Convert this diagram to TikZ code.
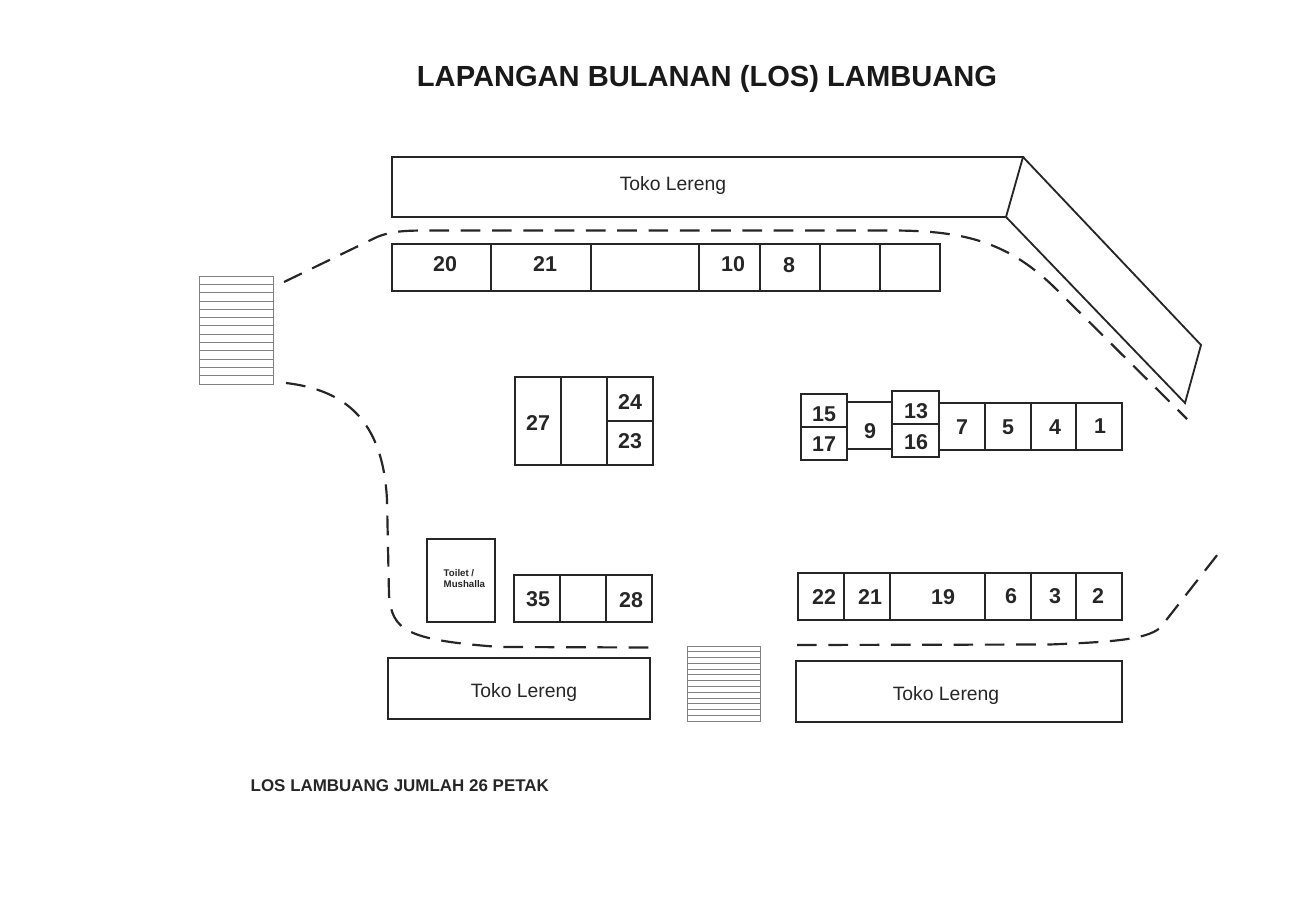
\documentclass[tikz,border=0pt]{standalone}
\usepackage{fontspec}
\setmainfont{Liberation Sans}

\begin{document}
\begin{tikzpicture}[x=0.01cm,y=-0.01cm,
    bangunan/.style={draw=black!85,line width=0.52pt,line join=miter},
    petak/.style={draw=black!85,line width=0.47pt},
    jalan/.style={draw=black!85,line width=0.62pt,dash pattern=on 5.6pt off 3.3pt},
    tangga/.style={draw=black!50,line width=0.22pt},
    nomor/.style={font=\fontsize{6.1}{7}\selectfont\bfseries,text=black!85,inner sep=0pt},
    toko/.style={font=\fontsize{5.5}{7}\selectfont,text=black!85,inner sep=0pt}]
    \useasboundingbox (0,0) rectangle (1300,919);

    \node[inner sep=0pt,text=black!90,font=\fontsize{8.28}{10}\selectfont\bfseries] (judul) at (707,79) {LAPANGAN BULANAN (LOS) LAMBUANG};

    % toko
    \draw[bangunan] (392,157) -- (1023,157) -- (1006,217) -- (392,217) -- cycle;
    \draw[bangunan] (1023,157) -- (1201,345) -- (1185,403) -- (1006,217);
    \draw[bangunan] (388,658) rectangle (650,719);
    \draw[bangunan] (796,661) rectangle (1122,722);
    \node[toko] (toko1) at (673,186) {Toko Lereng};
    \node[toko] (toko2) at (524,693) {Toko Lereng};
    \node[toko] (toko3) at (946,695) {Toko Lereng};

    % baris atas
    \draw[petak] (392,244) rectangle (491,291);
    \draw[petak] (491,244) rectangle (591,291);
    \draw[petak,line width=0.7pt] (591,244) rectangle (699,291);
    \draw[petak] (699,244) rectangle (760,291);
    \draw[petak] (760,244) rectangle (820,291);
    \draw[petak] (820,244) rectangle (880,291);
    \draw[petak] (880,244) rectangle (940,291);
    \node[nomor] (n20) at (445,264) {20};
    \node[nomor] (n21a) at (545,264) {21};
    \node[nomor] (n10) at (733,264) {10};
    \node[nomor] (n8) at (789,265) {8};

    % tengah kiri
    \draw[petak] (515,377) rectangle (561,465);
    \draw[petak] (561,377) rectangle (607,465);
    \draw[petak] (607,377) rectangle (653,421);
    \draw[petak] (607,421) rectangle (653,465);
    \node[nomor] (n27) at (538,423) {27};
    \node[nomor] (n24) at (630,402) {24};
    \node[nomor] (n23) at (630,441) {23};

    % tengah kanan
    \draw[petak] (847,402) rectangle (892,449);
    \draw[petak] (939,403) rectangle (985,450);
    \draw[petak] (985,403) rectangle (1031,450);
    \draw[petak] (1031,403) rectangle (1076,450);
    \draw[petak] (1076,403) rectangle (1122,450);
    \draw[petak] (801,394) rectangle (847,427);
    \draw[petak] (801,427) rectangle (847,460);
    \draw[petak] (892,391) rectangle (939,424);
    \draw[petak] (892,424) rectangle (939,457);
    \node[nomor] (n15) at (824,414) {15};
    \node[nomor] (n17) at (824,444) {17};
    \node[nomor] (n9) at (870,431) {9};
    \node[nomor] (n13) at (916,411) {13};
    \node[nomor] (n16) at (916,442) {16};
    \node[nomor] (n7) at (962,427) {7};
    \node[nomor] (n5) at (1008,427) {5};
    \node[nomor] (n4) at (1055,427) {4};
    \node[nomor] (n1) at (1100,426) {1};

    % bawah kiri
    \draw[petak] (427,539) rectangle (495,622);
    \node[inner sep=0pt,anchor=north west,align=left,text=black!85,font=\fontsize{2.75}{3.1}\selectfont\bfseries] (toilet) at (443,569) {Toilet /\\Mushalla};
    \draw[petak] (514,575) rectangle (560,622);
    \draw[petak] (560,575) rectangle (606,622);
    \draw[petak] (606,575) rectangle (652,622);
    \node[nomor] (n35) at (538,599) {35};
    \node[nomor] (n28) at (631,600) {28};

    % bawah kanan
    \draw[petak] (798,573) rectangle (844,620);
    \draw[petak] (844,573) rectangle (890,620);
    \draw[petak] (890,573) rectangle (985,620);
    \draw[petak] (985,573) rectangle (1031,620);
    \draw[petak] (1031,573) rectangle (1076,620);
    \draw[petak] (1076,573) rectangle (1122,620);
    \node[nomor] (n22) at (824,597) {22};
    \node[nomor] (n21b) at (870,597) {21};
    \node[nomor] (n19) at (943,597) {19};
    \node[nomor] (n6) at (1011,596) {6};
    \node[nomor] (n3) at (1055,596) {3};
    \node[nomor] (n2) at (1098,596) {2};

    % tangga
    \draw[tangga] (199,276) rectangle (273,384);
    \foreach \i in {1,...,12}
      \draw[tangga] (199,276+\i*8.31) -- (273,276+\i*8.31);
    \draw[tangga] (687,646) rectangle (760,721);
    \foreach \i in {1,...,12}
      \draw[tangga] (687,646+\i*5.77) -- (760,646+\i*5.77);

    % jalan
    \draw[jalan] (284,282) -- (377,237) .. controls (392,231) and (405,230.5) .. (430,230.5) -- (890,230.5)
      .. controls (960,230.5) and (1005,240) .. (1053,286) -- (1187,419);
    \draw[jalan] (286,383) .. controls (345,390) and (383,420) .. (387,500) -- (389,595)
      .. controls (392,630) and (405,640) .. (500,647) -- (650,647.5);
    \draw[jalan] (797,645) -- (1050,644.5) .. controls (1110,642) and (1145,640) .. (1160,628) -- (1218,554);

    \node[inner sep=0pt,anchor=west,text=black!85,font=\fontsize{4.82}{6}\selectfont\bfseries] (catatan) at (250,786) {LOS LAMBUANG JUMLAH 26 PETAK};
\end{tikzpicture}
\end{document}
